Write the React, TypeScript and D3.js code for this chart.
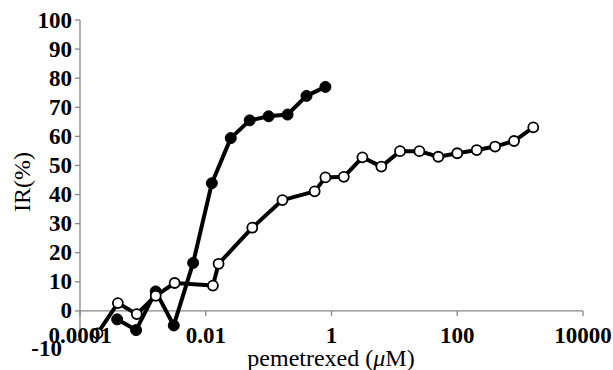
import { useEffect } from 'react';
import * as d3 from 'd3';

// pemetrexed dose (µM) vs IR(%)
const filledDose = [0.00039, 0.00078, 0.0016, 0.0031, 0.0063, 0.0125, 0.025, 0.05, 0.1, 0.2, 0.4, 0.8];
const filledIR = [-2.9, -6.6, 6.7, -5.0, 16.5, 43.9, 59.4, 65.5, 66.9, 67.5, 73.9, 77.0];

const openDose = [
  0.00019, 0.0004, 0.0008, 0.0016, 0.0032, 0.013, 0.016, 0.055, 0.166, 0.54, 0.8,
  1.57, 3.1, 6.2, 12.3, 25, 50, 100, 204, 400, 800, 1620,
];
const openIR = [
  -7.7, 2.7, -1.1, 5.2, 9.6, 8.7, 16.2, 28.6, 38.1, 41.1, 45.9,
  46.1, 52.8, 49.6, 54.9, 54.9, 53.0, 54.2, 55.3, 56.5, 58.4, 63.1,
];

const yTicks = [-10, 0, 10, 20, 30, 40, 50, 60, 70, 80, 90, 100];
const xTicks = [0.0001, 0.01, 1, 100, 10000];
const xTickLabels = ['0.0001', '0.01', '1', '100', '10000'];

const W = 613;
const H = 370;
const font = 'Liberation Serif, Times New Roman, serif';
const axisColor = '#868686';

const tickStyle = {
  fontFamily: font,
  fontWeight: 700,
  fontSize: 23,
  fill: '#000',
};

export default function App() {
  useEffect(() => {
    document.body.style.margin = '0';
  }, []);

  const x = d3.scaleLog().domain([1e-4, 1e4]).range([80, 583]);
  const y = d3.scaleLinear().domain([-10, 100]).range([340, 20]);

  const line = d3
    .line<[number, number]>()
    .x((d) => x(d[0]))
    .y((d) => y(d[1]));

  const filled = filledDose.map((d, i) => [d, filledIR[i]] as [number, number]);
  const open = openDose.map((d, i) => [d, openIR[i]] as [number, number]);

  return (
    <svg width={W} height={H} style={{ display: 'block', background: '#fff' }}>
      {/* axes */}
      <line x1={x(1e-4)} x2={x(1e-4)} y1={y(100)} y2={y(-10)} stroke={axisColor} strokeWidth={1.3} />
      {yTicks.map((t) => (
        <line key={`yt${t}`} x1={x(1e-4) - 5} x2={x(1e-4)} y1={y(t)} y2={y(t)} stroke={axisColor} strokeWidth={1.3} />
      ))}
      <line x1={x(1e-4)} x2={x(1e4)} y1={y(0)} y2={y(0)} stroke={axisColor} strokeWidth={1.3} />
      {xTicks.map((t) => (
        <line key={`xt${t}`} x1={x(t)} x2={x(t)} y1={y(0)} y2={y(0) + 5} stroke={axisColor} strokeWidth={1.3} />
      ))}

      {/* y tick labels */}
      {yTicks.map((t) => (
        <text
          key={`yl${t}`}
          x={t < 0 ? 62 : 72}
          y={y(t) + (t < 0 ? 8 : 0)}
          textAnchor="end"
          dominantBaseline="central"
          style={tickStyle}
        >
          {t}
        </text>
      ))}

      {/* series */}
      <path d={line(filled) ?? ''} fill="none" stroke="#000" strokeWidth={4} strokeLinejoin="round" />
      {filled.map((d, i) => (
        <circle key={`f${i}`} cx={x(d[0])} cy={y(d[1])} r={5.5} fill="#000" stroke="#000" strokeWidth={1} />
      ))}
      <path d={line(open) ?? ''} fill="none" stroke="#000" strokeWidth={4} strokeLinejoin="round" />
      {open.map((d, i) => (
        <circle key={`o${i}`} cx={x(d[0])} cy={y(d[1])} r={5} fill="#fff" stroke="#000" strokeWidth={1.8} />
      ))}

      {/* x tick labels */}
      {xTicks.map((t, i) => (
        <text
          key={`xl${t}`}
          x={x(t)}
          y={335}
          textAnchor="middle"
          dominantBaseline="central"
          style={tickStyle}
        >
          {xTickLabels[i]}
        </text>
      ))}

      {/* titles */}
      <text x={331} y={366} textAnchor="middle" style={{ fontFamily: font, fontSize: 24 }} fill="#000">
        pemetrexed (<tspan fontStyle="italic">μ</tspan>M)
      </text>
      <text
        transform="translate(30,182) rotate(-90)"
        textAnchor="middle"
        style={{ fontFamily: font, fontSize: 24 }}
        fill="#000"
      >
        IR(%)
      </text>
    </svg>
  );
}
